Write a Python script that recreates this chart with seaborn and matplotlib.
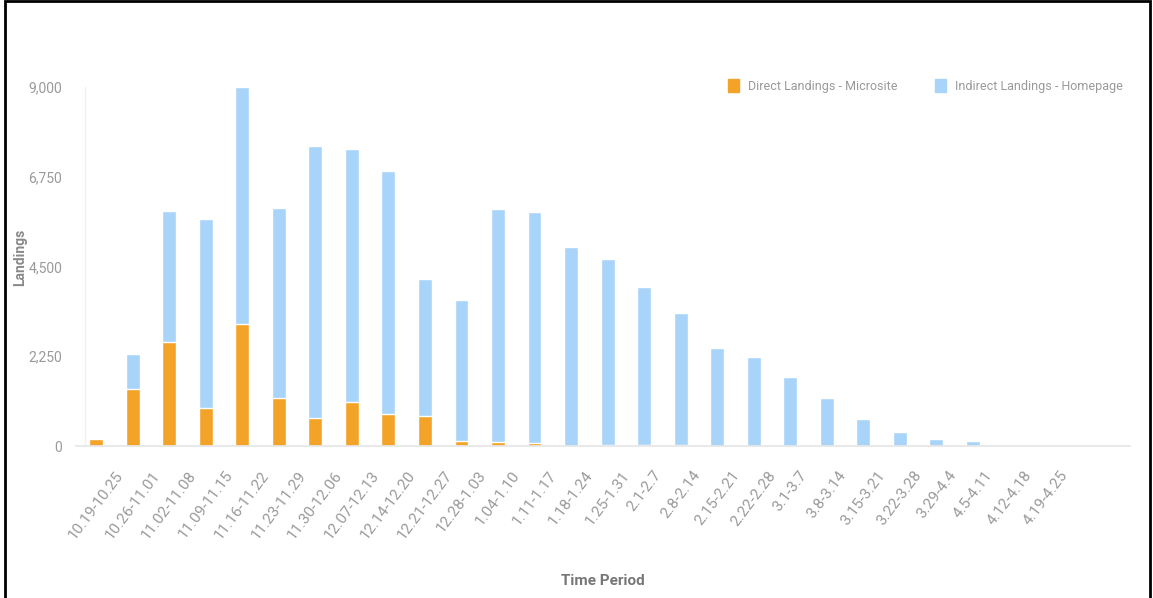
import numpy as np
import pandas as pd
import seaborn as sns
import matplotlib.pyplot as plt
from matplotlib.patches import Patch, Rectangle

sns.set_theme(style="white")
plt.rcParams['font.family'] = ['Roboto', 'DejaVu Sans']

periods = ["10.19-10.25", "10.26-11.01", "11.02-11.08", "11.09-11.15", "11.16-11.22",
           "11.23-11.29", "11.30-12.06", "12.07-12.13", "12.14-12.20", "12.21-12.27",
           "12.28-1.03", "1.04-1.10", "1.11-1.17", "1.18-1.24", "1.25-1.31",
           "2.1-2.7", "2.8-2.14", "2.15-2.21", "2.22-2.28", "3.1-3.7",
           "3.8-3.14", "3.15-3.21", "3.22-3.28", "3.29-4.4", "4.5-4.11",
           "4.12-4.18", "4.19-4.25"]
direct = [190, 1430, 2600, 960, 3060, 1200, 700, 1100, 800, 750,
          130, 100, 75, 0, 30, 30, 30, 0, 0, 0,
          0, 0, 0, 0, 0, 0, 0]
indirect = [0, 870, 3290, 4730, 5940, 4760, 6820, 6340, 6090, 3440,
            3520, 5840, 5795, 4990, 4660, 3960, 3300, 2460, 2230, 1730,
            1200, 680, 350, 175, 125, 0, 0]
yticks = [0, 2250, 4500, 6750, 9000]

orange = "#F3A428"
blue = "#A9D4FA"
grey = "#9a9a9a"

df = pd.DataFrame({"period": periods, "direct": direct, "indirect": indirect})
df["total"] = df["direct"] + df["indirect"]

fig = plt.figure(figsize=(11.53, 5.98), dpi=100)
ax = fig.add_axes([0.066, 0.254, 0.914, 0.601])

sns.barplot(data=df, x="period", y="total", color=blue, width=0.38,
            saturation=1, ax=ax)
sns.barplot(data=df, x="period", y="direct", color=orange, width=0.38,
            saturation=1, ax=ax)

ax.set_ylim(0, 9000)
ax.set_xlim(-0.55, 28.3)
ax.set_yticks(yticks)
ax.set_yticklabels([f"{v:,}" for v in yticks], color=grey, fontsize=10)
ax.set_xticks(range(len(periods)))
ax.set_xticklabels(periods, rotation=53, ha="center", va="top",
                   color=grey, fontsize=11)
ax.tick_params(axis="y", length=0, pad=10)
ax.tick_params(axis="x", length=0, pad=16)

for s in ["top", "right", "left"]:
    ax.spines[s].set_visible(False)
ax.spines["bottom"].set_color("#e6e6e6")
ax.axvline(-0.3, color="#f0f0f0", lw=1, zorder=0)

ax.set_xlabel("Time Period", color="#777777", fontsize=11, fontweight="bold")
ax.xaxis.set_label_coords(0.5, -0.355)
ax.set_ylabel("Landings", color="#888888", fontsize=10, fontweight="bold")
ax.yaxis.set_label_coords(-0.046, 0.526)

handles = [Patch(color=orange, label="Direct Landings - Microsite"),
           Patch(color=blue, label="Indirect Landings - Homepage")]
fig.legend(handles=handles, loc="upper left", bbox_to_anchor=(0.631, 0.868), ncol=2,
           frameon=False, fontsize=9, labelcolor=grey, handlelength=0.95,
           handleheight=1.2, handletextpad=0.65, columnspacing=3.0,
           borderpad=0, borderaxespad=0)

fig.patches.append(Rectangle((0.004, -0.1), 0.993, 1.098, transform=fig.transFigure,
                             fill=False, edgecolor="black", lw=2, zorder=10))

fig.savefig("out.png", dpi=100)
